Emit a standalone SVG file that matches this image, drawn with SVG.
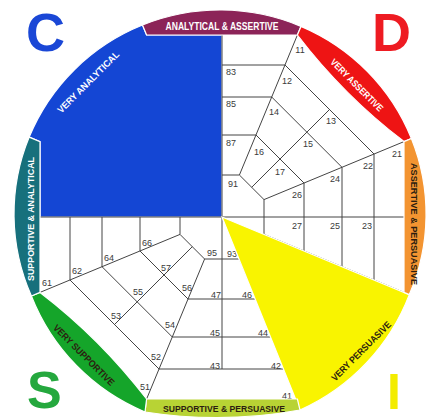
<svg xmlns="http://www.w3.org/2000/svg" width="435" height="420" viewBox="0 0 435 420">
<style>
.g{fill:none;stroke:#444444;stroke-width:1}
.n{font-family:"Liberation Sans",Arial,sans-serif;font-size:9px;fill:#3a3a3a;text-anchor:middle}
.b{font-family:"Liberation Sans",Arial,sans-serif;font-weight:bold;font-size:9.5px;text-anchor:middle}
.w{fill:#ffffff}
.k{fill:#2b1d10}
.L{font-family:"Liberation Sans",Arial,sans-serif;font-weight:bold;font-size:54px}
.band{stroke:#ffffff;stroke-width:1.2}
</style>
<rect width="435" height="420" fill="#ffffff"/>

<g id="very-analytical">
<path class="band" fill="#1446d4" d="M222,217 L222,35 L146.6,35 L142.5,25 A206,204 0 0 0 29.2,137.1 L40,141.6 L40,217 Z"/>
</g>

<g id="connectors">
<path class="g" d="M40,217H404 M222,35V369
M222,65H285 M222,97H271.7 M222,135H256 M222,175H239.4
M297.4,35L239.4,175
M285,65L374,154 M271.7,97L342,167.3 M256,135L304,183 M239.4,175L264,199.6
M404,141.6L264,199.6
M329.5,109.5L251.7,187.3
M374,154V280 M342,167.3V266.7 M304,183V251 M264,199.6V234.4
M264,234.4L404,292.4
M159,369H285 M172.3,337H271.7 M188,299H256 M204.6,259H239.4
M204.6,259L146.6,399 M239.4,259L297.4,399
M159,369L70,280 M172.3,337L102,266.7 M188,299L140,251 M204.6,259L180,234.4
M40,292.4L180,234.4
M114.5,324.5L192.3,246.7
M70,217V280 M102,217V266.7 M140,217V251 M180,217V234.4
M239.4,259L264,234.4"/>
</g>

<g id="cells">
<text class="n" x="231" y="75">83</text>
<text class="n" x="231" y="107">85</text>
<text class="n" x="231" y="146">87</text>
<text class="n" x="233" y="187">91</text>
<text class="n" x="300" y="53">11</text>
<text class="n" x="287" y="84">12</text>
<text class="n" x="274" y="115">14</text>
<text class="n" x="259" y="155">16</text>
<text class="n" x="331" y="124">13</text>
<text class="n" x="308" y="147">15</text>
<text class="n" x="280" y="175">17</text>
<text class="n" x="397" y="157">21</text>
<text class="n" x="368" y="169">22</text>
<text class="n" x="335" y="182">24</text>
<text class="n" x="297" y="198">26</text>
<text class="n" x="297" y="229">27</text>
<text class="n" x="335" y="229">25</text>
<text class="n" x="367" y="229">23</text>
<text class="n" x="232" y="257">93</text>
<text class="n" x="212" y="256">95</text>
<text class="n" x="216" y="298">47</text>
<text class="n" x="247" y="298">46</text>
<text class="n" x="215" y="336">45</text>
<text class="n" x="263" y="336">44</text>
<text class="n" x="215" y="369">43</text>
<text class="n" x="276" y="369">42</text>
<text class="n" x="287" y="399">41</text>
<text class="n" x="147" y="246">66</text>
<text class="n" x="109" y="261">64</text>
<text class="n" x="77" y="274">62</text>
<text class="n" x="47" y="286">61</text>
<text class="n" x="166" y="271">57</text>
<text class="n" x="138" y="295">55</text>
<text class="n" x="116" y="319">53</text>
<text class="n" x="187" y="291">56</text>
<text class="n" x="170" y="328">54</text>
<text class="n" x="156" y="360">52</text>
<text class="n" x="145" y="390">51</text>
</g>

<g id="very-persuasive">
<path class="band" fill="#f9f400" d="M222,217 L409.3,294.6 A208,208 0 0 1 300,410 Z"/>
<text class="b k" transform="translate(361,351) rotate(-45)" y="3.5" textLength="80" lengthAdjust="spacingAndGlyphs">VERY PERSUASIVE</text>
</g>

<g id="analytical-assertive">
<path class="band" fill="#8c2458" d="M146.6,35 L142.5,25 A206,204 0 0 1 301,26.4 L297.4,35 Z"/>
<text class="b w" x="222" y="29.5" style="font-size:10px" textLength="113" lengthAdjust="spacingAndGlyphs">ANALYTICAL &amp; ASSERTIVE</text>
</g>

<g id="very-assertive">
<path class="band" fill="#ee1414" d="M297.4,35 L301,26.4 A206,204 0 0 1 411.4,138.5 L404,141.6 Q343.6,95.4 297.4,35 Z"/>
<text class="b w" transform="translate(357,85) rotate(45)" y="3.5" textLength="70" lengthAdjust="spacingAndGlyphs">VERY ASSERTIVE</text>
</g>

<g id="assertive-persuasive">
<path class="band" fill="#f39431" d="M404,141.6 L411.4,138.5 A206,204 0 0 1 409.3,294.6 L404,292.4 Z"/>
<text class="b k" transform="translate(414,224) rotate(90)" y="3.5" textLength="122" lengthAdjust="spacingAndGlyphs">ASSERTIVE &amp; PERSUASIVE</text>
</g>

<g id="supportive-persuasive">
<path class="band" fill="#b8d334" d="M297.4,399 L300,410 A465,465 0 0 1 145,412 L146.6,399 Z"/>
<text class="b k" x="224" y="412" textLength="122" lengthAdjust="spacingAndGlyphs">SUPPORTIVE &amp; PERSUASIVE</text>
</g>

<g id="very-supportive">
<path class="band" fill="#15a52a" d="M146.6,399 L145,412 A208,208 0 0 1 31.4,296 L40,292.4 Q100.4,338.6 146.6,399 Z"/>
<text class="b k" transform="translate(84,355) rotate(45)" y="3.5" textLength="82" lengthAdjust="spacingAndGlyphs">VERY SUPPORTIVE</text>
</g>

<g id="supportive-analytical">
<path class="band" fill="#17707c" d="M40,292.4 L31.4,296 A206,204 0 0 1 29.2,137.1 L40,141.6 Z"/>
<text class="b w" transform="translate(30,219) rotate(-90)" y="3.5" textLength="124" lengthAdjust="spacingAndGlyphs">SUPPORTIVE &amp; ANALYTICAL</text>
</g>

<g id="very-analytical-label">
<text class="b w" transform="translate(88,82) rotate(-45)" y="3.5" textLength="83" lengthAdjust="spacingAndGlyphs">VERY ANALYTICAL</text>
</g>

<g id="letters">
<text class="L" x="26" y="51" fill="#1a47d6">C</text>
<text class="L" x="372" y="51" fill="#ee1b22">D</text>
<text class="L" x="27" y="408" fill="#25a83e" style="font-size:52px">S</text>
<text class="L" x="387" y="409" fill="#f3ec00" style="font-size:50px">I</text>
</g>
</svg>
